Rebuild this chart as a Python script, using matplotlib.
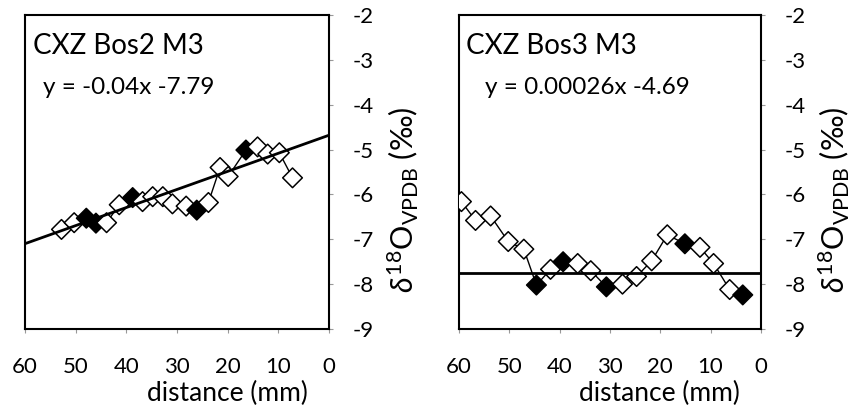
import numpy as np
import matplotlib.pyplot as plt

plt.rcParams['font.family'] = ['Lato', 'DejaVu Sans']
plt.rcParams['mathtext.fontset'] = 'custom'
plt.rcParams['mathtext.rm'] = 'Lato'
plt.rcParams['mathtext.it'] = 'Lato:italic'

# --- CXZ Bos2 M3 ---
bos2_dist = [52.8, 50.3, 47.9, 46.0, 43.9, 41.4, 38.75, 36.8, 34.8, 32.8, 30.9,
             28.2, 26.1, 23.8, 21.5, 19.9, 16.4, 14.1, 12.1, 9.8, 7.2]
bos2_d18o = [-6.78, -6.63, -6.53, -6.64, -6.63, -6.23, -6.07, -6.16, -6.05, -6.05, -6.21,
             -6.26, -6.35, -6.18, -5.40, -5.60, -5.01, -4.94, -5.10, -5.07, -5.63]
bos2_filled = [2, 3, 6, 12, 16]
bos2_fit = (-4.68, -0.0403)  # value at 0 mm, slope per mm
bos2_eq = 'y = -0.04x -7.79'

# --- CXZ Bos3 M3 ---
bos3_dist = [59.5, 56.7, 53.7, 50.2, 47.1, 44.6, 41.8, 39.3, 36.4, 33.8,
             30.7, 27.5, 24.7, 21.7, 18.6, 15.1, 12.1, 9.4, 6.2, 3.6]
bos3_d18o = [-6.16, -6.58, -6.48, -7.05, -7.22, -8.02, -7.67, -7.50, -7.54, -7.70,
             -8.06, -8.00, -7.83, -7.48, -6.90, -7.10, -7.18, -7.54, -8.12, -8.24]
bos3_filled = [5, 7, 10, 15, 19]
bos3_fit = (-7.76, 0.0)
bos3_eq = 'y = 0.00026x -4.69'

panels = [
    ('CXZ Bos2 M3', bos2_dist, bos2_d18o, bos2_filled, bos2_fit, bos2_eq, [0.0293, 0.1995, 0.3564, 0.764], 0.06, 386),
    ('CXZ Bos3 M3', bos3_dist, bos3_d18o, bos3_filled, bos3_fit, bos3_eq, [0.538, 0.1995, 0.354, 0.764], 0.085, 817),
]

fig = plt.figure(figsize=(8.53, 4.11), dpi=100)

for title, dist, d18o, filled, fit, eq, rect, eq_x, ylab_px in panels:
    ax = fig.add_axes(rect)
    dist = np.array(dist)
    d18o = np.array(d18o)
    ax.plot(dist, d18o, color='black', lw=1.0, zorder=2)
    face = ['black' if i in filled else 'white' for i in range(len(dist))]
    ax.scatter(dist, d18o, marker='D', s=100, facecolors=face, edgecolors='black',
               linewidths=1.1, zorder=3)
    xs = np.array([60, 0])
    ax.plot(xs, fit[0] + fit[1] * xs, color='black', lw=2.0, zorder=4)

    ax.set_xlim(60, 0)
    ax.set_ylim(-9, -2)
    ax.set_xticks([60, 50, 40, 30, 20, 10, 0])
    ax.set_yticks([-2, -3, -4, -5, -6, -7, -8, -9])
    ax.set_yticklabels(['-2', '-3', '-4', '-5', '-6', '-7', '-8', '-9'])
    ax.yaxis.tick_right()
    ax.tick_params(axis='both', labelsize=16, length=3, width=0.8, color='#999999',
                   direction='out')
    ax.tick_params(axis='y', pad=14)
    ax.tick_params(axis='x', pad=17)
    for sp in ax.spines.values():
        sp.set_linewidth(1.5)

    ax.set_xlabel('distance (mm)', fontsize=19, va='center')
    ax.xaxis.set_label_coords(0.665, -0.205)

    # y label on the right, placed in figure pixels
    fig.text(ylab_px / 853, 1 - 200 / 411, r'$\delta^{18}\mathrm{O}_{\mathrm{VPDB}}$ (‰)',
             fontsize=22, rotation=90, ha='left', va='center')

    ax.text(0.025, 0.9, title, transform=ax.transAxes, fontsize=20, va='center', ha='left')
    ax.text(eq_x, 0.77, eq, transform=ax.transAxes, fontsize=17.5, va='center', ha='left')

fig.savefig('out.png', dpi=100)
